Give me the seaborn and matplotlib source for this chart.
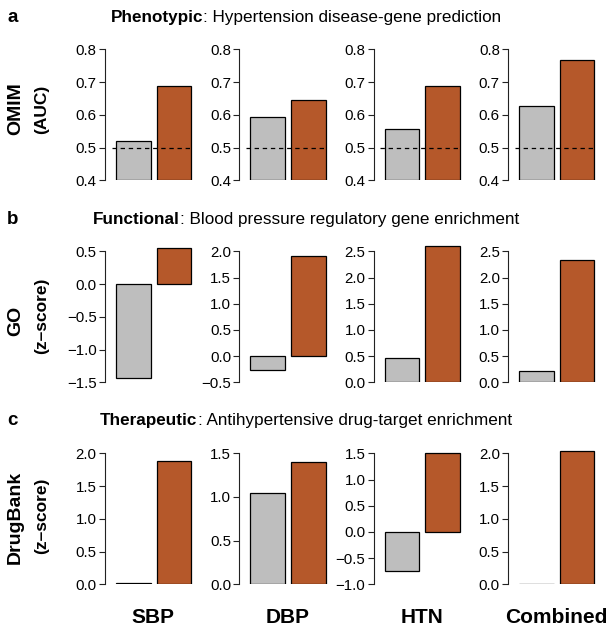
import numpy as np
import pandas as pd
import matplotlib
matplotlib.use("Agg")
import matplotlib.pyplot as plt
import seaborn as sns

# Estilo base y fuente tipo Helvetica
sns.set_style("ticks")
plt.rcParams['font.family'] = ['Liberation Sans', 'DejaVu Sans']
plt.rcParams['text.color'] = 'black'
plt.rcParams['ytick.color'] = 'black'

# Datos
categorias = ["SBP", "DBP", "HTN", "Combined"]
grupos = ["base", "red"]

omim_gris = [0.520, 0.594, 0.557, 0.627]
omim_naranja = [0.688, 0.645, 0.688, 0.767]
go_gris = [-1.435, -0.256, 0.462, 0.210]
go_naranja = [0.550, 1.905, 2.610, 2.330]
drug_gris = [0.025, 1.040, -0.740, 0.004]
drug_naranja = [1.890, 1.395, 1.510, 2.040]

# Rango de ticks por panel (min, max) y paso
omim_ticks = [(0.4, 0.8), (0.4, 0.8), (0.4, 0.8), (0.4, 0.8)]
go_ticks = [(-1.5, 0.5), (-0.5, 2.0), (0.0, 2.5), (0.0, 2.5)]
drug_ticks = [(0.0, 2.0), (0.0, 1.5), (-1.0, 1.5), (0.0, 2.0)]

filas = [
    dict(letra="a", negrita="Phenotypic", resto=": Hypertension disease-gene prediction",
         nombre="OMIM", sub="(AUC)", gris=omim_gris, naranja=omim_naranja,
         ticks=omim_ticks, paso=0.1, linea=0.5),
    dict(letra="b", negrita="Functional", resto=": Blood pressure regulatory gene enrichment",
         nombre="GO", sub="(z\u2013score)", gris=go_gris, naranja=go_naranja,
         ticks=go_ticks, paso=0.5, linea=None),
    dict(letra="c", negrita="Therapeutic", resto=": Antihypertensive drug-target enrichment",
         nombre="DrugBank", sub="(z\u2013score)", gris=drug_gris, naranja=drug_naranja,
         ticks=drug_ticks, paso=0.5, linea=None),
]

color_gris = "#BEBEBE"
color_naranja = "#B5582A"

W, H = 614, 630
fig = plt.figure(figsize=(W / 100, H / 100), dpi=100)

# Geometría en píxeles
tope_ticks = [49.3, 251.3, 453.3]
alto_ticks = 131
extra = 10
eje_x0 = 105
sep_panel = 134.4
ancho_ax = 94
centros_sub = [109, 316, 516]
centros_nom = [109, 321, 517]
base_titulo = [22, 224, 425]


def fx(px):
    return px / W


def fy(py):
    return 1 - py / H


def etiqueta(v):
    if abs(v) < 1e-9:
        v = 0.0
    return f"{v:.1f}".replace("-", "\u2212")


for r, fila in enumerate(filas):
    top = tope_ticks[r]
    bot = top + alto_ticks
    for i in range(4):
        x0 = eje_x0 + i * sep_panel
        ax = fig.add_axes([fx(x0), fy(bot), ancho_ax / W, (alto_ticks + extra) / H])
        df = pd.DataFrame({"grupo": grupos, "valor": [fila["gris"][i], fila["naranja"][i]]})
        sns.barplot(data=df, x="grupo", y="valor", hue="grupo",
                    palette=[color_gris, color_naranja], saturation=1,
                    edgecolor="black", linewidth=0.9, width=0.855,
                    legend=False, ax=ax)
        lo, hi = fila["ticks"][i]
        k = (hi - lo) / alto_ticks
        ax.set_ylim(lo, hi + extra * k)
        ax.set_xlim(-0.70, 1.62)
        # barras de AUC empiezan en el piso del eje
        if lo > 0:
            for p in ax.patches:
                h = p.get_y() + p.get_height()
                p.set_y(lo)
                p.set_height(h - lo)
        ticks = np.round(np.arange(lo, hi + fila["paso"] / 2, fila["paso"]), 2)
        ax.set_yticks(ticks)
        ax.set_yticklabels([etiqueta(v) for v in ticks])
        ax.set_xticks([])
        ax.set_xlabel("")
        ax.set_ylabel("")
        sns.despine(ax=ax, bottom=True)
        ax.spines["left"].set_bounds(lo, hi)
        ax.spines["left"].set_linewidth(0.8)
        ax.spines["left"].set_color("#222222")
        ax.tick_params(axis="y", length=4, width=0.8, pad=2, labelsize=10.8,
                       color="#222222", labelcolor="black")
        if fila["linea"] is not None:
            ax.axhline(fila["linea"], xmin=0.07, xmax=0.93, color="black",
                       lw=0.9, ls=(0, (3.5, 3)), zorder=5)

    # letra del panel
    fig.text(fx(7), fy(base_titulo[r]), fila["letra"], fontsize=13.5,
             fontweight="bold", va="baseline", ha="left", color="black")

    # título con parte en negrita
    renderer = fig.canvas.get_renderer()
    t1 = fig.text(0, fy(base_titulo[r]), fila["negrita"], fontsize=12.3,
                  fontweight="bold", va="baseline", ha="left", color="black")
    t2 = fig.text(0, fy(base_titulo[r]), fila["resto"], fontsize=12.3,
                  va="baseline", ha="left", color="black")
    w1 = t1.get_window_extent(renderer).width
    w2 = t2.get_window_extent(renderer).width
    inicio = 306 - (w1 + w2) / 2
    t1.set_x(fx(inicio))
    t2.set_x(fx(inicio + w1))

    # nombres de filas
    fig.text(fx(20), fy(centros_nom[r]), fila["nombre"], fontsize=14,
             fontweight="bold", rotation=90, rotation_mode="anchor",
             ha="center", va="baseline", color="black")
    fig.text(fx(46), fy(centros_sub[r]), fila["sub"], fontsize=12.5,
             fontweight="bold", rotation=90, rotation_mode="anchor",
             ha="center", va="baseline", color="black")

# categorías abajo
for i, cat in enumerate(categorias):
    cx = eje_x0 + i * sep_panel + 48.3
    fig.text(fx(cx), fy(623), cat, fontsize=15, fontweight="bold",
             ha="center", va="baseline", color="black")

fig.savefig("out.png", dpi=100)
